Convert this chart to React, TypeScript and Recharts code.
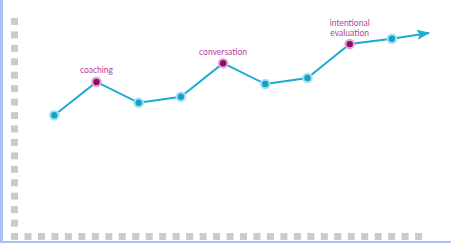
import React from "react";
import { LineChart, Line, XAxis, YAxis } from "recharts";

// x positions (stage index) of each point; the last entry is the arrow tip
const stageIndex = [0, 1, 2, 3, 4, 5, 6, 7, 8, 8.88];
// progress values
const progress = [56.4, 71.9, 62.2, 65.0, 80.6, 70.9, 73.7, 89.5, 92.0, 94.7];
// annotations for highlighted milestones
const milestoneLabels = ["", "coaching", "", "", "conversation", "", "", "intentional evaluation", "", ""];
// which entry is the arrow head (no dot)
const isArrow = [false, false, false, false, false, false, false, false, false, true];

// decorative square marks along the axes (grid units)
const bottomSquareSteps = Array.from({ length: 31 }, (_, i) => i);
const leftSquareSteps = Array.from({ length: 17 }, (_, i) => i);

const data = stageIndex.map((x, i) => ({
  x,
  v: progress[i],
  label: milestoneLabels[i],
  arrow: isArrow[i],
}));
const bottomSquares = bottomSquareSteps.map((i) => ({ gx: i, gy: 0 }));
const leftSquares = leftSquareSteps.map((j) => ({ gx: 0, gy: j }));

const LINE = "#19acd5";
const SQ = "#cbcbcb";

const SquareDot = (props: any) => (
  <rect key={`sq${props.index}`} x={props.cx - 3.5} y={props.cy - 3.5} width={7} height={7} fill={SQ} />
);

const Dot = (props: any) => {
  const { cx, cy, payload, index } = props;
  if (payload.arrow) return <g key={`d${index}`} />;
  const hi = payload.label !== "";
  const words = hi ? payload.label.split(" ") : [];
  return (
    <g key={`d${index}`}>
      <circle cx={cx} cy={cy} r={5.3} fill={hi ? "#dfa8d2" : "#a7dff1"} />
      <circle cx={cx} cy={cy} r={3.2} fill={hi ? "#900a68" : "#0ea3c9"} />
      {hi && (
        <text x={cx} textAnchor="middle" fill="#b4429c" fontSize={8.5} fontFamily="Lato, 'Open Sans', sans-serif">
          {words.map((w: string, k: number) => (
            <tspan key={k} x={cx} y={cy - 8.5 - (words.length - 1 - k) * 9.5}>
              {w}
            </tspan>
          ))}
        </text>
      )}
    </g>
  );
};

export default function App() {
  return (
    <div style={{ position: "absolute", left: 0, top: 0, width: 451, height: 243, background: "#fff" }}>
      <div
        style={{
          position: "absolute", left: 0, top: 0, width: 451, height: 243, boxSizing: "border-box",
          borderLeft: "3px solid #a9c1f7", borderBottom: "2px solid #a9c1f7",
        }}
      />
      <div style={{ position: "absolute", left: 0, top: 0 }}>
        <LineChart width={451} height={243} data={data} margin={{ top: 12, right: 7, bottom: 2, left: 8 }}>
          <defs>
            <marker id="arrowHead" viewBox="0 0 13 10" refX={12} refY={5} markerWidth={13} markerHeight={10} markerUnits="userSpaceOnUse" orient="auto">
              <path d="M0,0 L13,5 L0,10 L2.5,5 z" fill={LINE} />
            </marker>
          </defs>
          <XAxis xAxisId="g" dataKey="gx" type="number" domain={[-0.4826, 31.886]} allowDataOverflow hide />
          <XAxis xAxisId="d" dataKey="x" type="number" domain={[-1.097, 9.235]} allowDataOverflow hide />
          <YAxis yAxisId="g" type="number" domain={[-0.3348, 16.704]} allowDataOverflow hide />
          <YAxis yAxisId="d" type="number" domain={[-2.093, 104.42]} allowDataOverflow hide />
          <Line xAxisId="g" yAxisId="g" data={bottomSquares} dataKey="gy" stroke="none" dot={SquareDot} activeDot={false} isAnimationActive={false} />
          <Line xAxisId="g" yAxisId="g" data={leftSquares} dataKey="gy" stroke="none" dot={SquareDot} activeDot={false} isAnimationActive={false} />
          <Line xAxisId="d" yAxisId="d" dataKey="v" type="linear" stroke={LINE} strokeWidth={2} markerEnd="url(#arrowHead)" dot={Dot} activeDot={false} isAnimationActive={false} />
        </LineChart>
      </div>
    </div>
  );
}
